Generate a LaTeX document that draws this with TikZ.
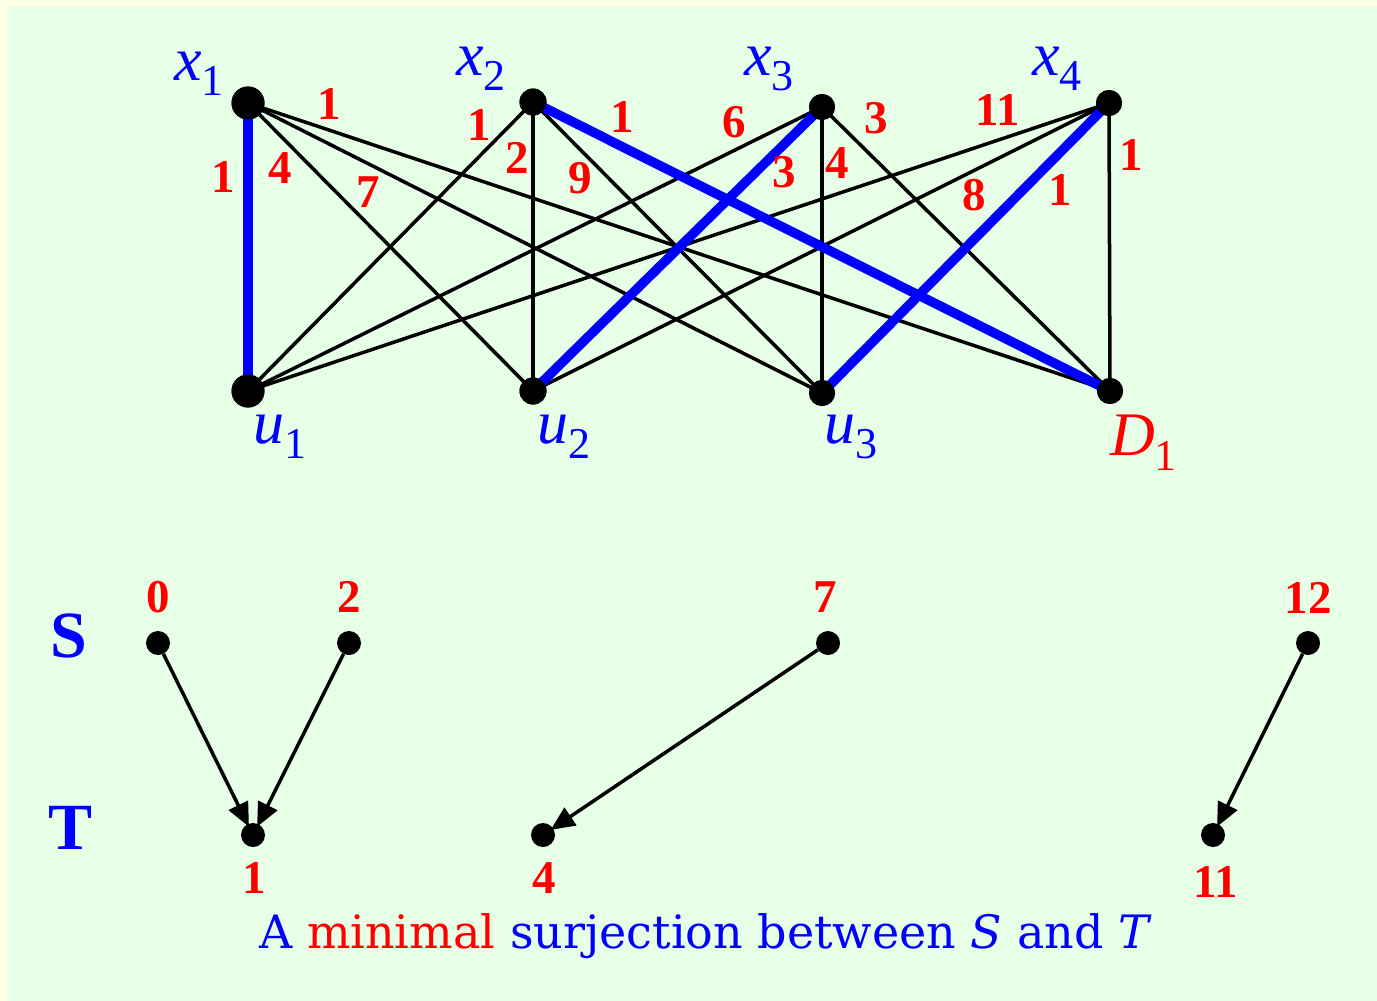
\documentclass[tikz,border=0pt]{standalone}
\usepackage{fontspec}
\setmainfont{Liberation Serif}
\newfontfamily\capfont{DejaVu Serif}
\usetikzlibrary{arrows.meta}
\definecolor{bgyellow}{RGB}{255,255,228}
\definecolor{bggreen}{RGB}{230,255,230}
\newcommand{\sublab}[2]{{\fontsize{62}{62}\selectfont\itshape #1}{\fontsize{44}{44}\selectfont\raisebox{-15pt}{#2}}}
\begin{document}
\begin{tikzpicture}[x=1pt,y=-1pt,
  vdot/.style={circle,fill=black,inner sep=0pt,minimum size=#1},
  vdot/.default=26,
  edge/.style={black,line width=3.5pt},
  bedge/.style={blue,line width=9.5pt},
  wlab/.style={text=red,font=\fontsize{47}{47}\selectfont\bfseries,inner sep=0pt},
  nlab/.style={text=blue,inner sep=0pt,anchor=base west},
  arr/.style={black,line width=3.5pt,-{Triangle[length=24pt,width=21pt]},shorten >=-3pt},
  setlab/.style={text=blue,font=\fontsize{66}{66}\selectfont\bfseries,inner sep=0pt}
]
\useasboundingbox (0,0) rectangle (1377,1001);
\fill[bgyellow] (0,0) rectangle (1377,1001);
\fill[bggreen] (8,7) rectangle (1377,1001);

% top vertices
\node[vdot=33] (x1) at (248,103) {};
\node[vdot=27] (x2) at (533,102) {};
\node[vdot=26] (x3) at (822,107) {};
\node[vdot=26] (x4) at (1109,103) {};
\node[vdot=33] (u1) at (248,391) {};
\node[vdot=27] (u2) at (533,391) {};
\node[vdot=26] (u3) at (822,393) {};
\node[vdot=26] (d1) at (1110,391) {};

% black edges
\foreach \a in {x1,x2,x3,x4}{
  \foreach \b in {u1,u2,u3,d1}{
    \draw[edge] (\a.center) -- (\b.center);
  }
}
% blue edges
\draw[bedge] (x1.center) -- (u1.center);
\draw[bedge] (x2.center) -- (d1.center);
\draw[bedge] (x3.center) -- (u2.center);
\draw[bedge] (x4.center) -- (u3.center);
% redraw dots on top
\foreach \n/\s in {x1/33,x2/27,x3/26,x4/26,u1/33,u2/27,u3/26,d1/26}{
  \fill[black] (\n.center) circle ({\s/2});
}

% vertex labels
\node[nlab] (lx1) at (174,80) {\sublab{x}{1}};
\node[nlab] (lx2) at (456,75) {\sublab{x}{2}};
\node[nlab] (lx3) at (744,75) {\sublab{x}{3}};
\node[nlab] (lx4) at (1032,75) {\sublab{x}{4}};
\node[nlab] (lu1) at (253,443) {\sublab{u}{1}};
\node[nlab] (lu2) at (537,443) {\sublab{u}{2}};
\node[nlab] (lu3) at (824,443) {\sublab{u}{3}};
\node[nlab,text=red] (ld1) at (1110,455) {\sublab{D}{1}};

% weights
\node[wlab] (w11) at (223,177) {1};
\node[wlab] (w12) at (280,168) {4};
\node[wlab] (w13) at (368,192) {7};
\node[wlab] (w14) at (329,104) {1};
\node[wlab] (w21) at (479,125) {1};
\node[wlab] (w22) at (517,158) {2};
\node[wlab] (w23) at (580,178) {9};
\node[wlab] (w24) at (622,117) {1};
\node[wlab] (w31) at (734,122) {6};
\node[wlab] (w32) at (784,172) {3};
\node[wlab] (w33) at (837,163) {4};
\node[wlab] (w34) at (876,118) {3};
\node[wlab] (w41) at (998,110) {11};
\node[wlab] (w42) at (974,195) {8};
\node[wlab] (w43) at (1060,190) {1};
\node[wlab] (w44) at (1131,155) {1};

% bottom part
\node[setlab] (S) at (69,636) {S};
\node[setlab] (T) at (71,828) {T};

\node[vdot=24] (s0) at (158,643) {};
\node[vdot=24] (s2) at (349,643) {};
\node[vdot=24] (s7) at (828,643) {};
\node[vdot=24] (s12) at (1308,643) {};
\node[vdot=24] (t1) at (253,835) {};
\node[vdot=24] (t4) at (543,835) {};
\node[vdot=24] (t11) at (1213,835) {};

\node[wlab] (ls0) at (158,597) {0};
\node[wlab] (ls2) at (349,597) {2};
\node[wlab] (ls7) at (825,597) {7};
\node[wlab] (ls12) at (1308,598) {12};
\node[wlab] (lt1) at (254,878) {1};
\node[wlab] (lt4) at (544,878) {4};
\node[wlab] (lt11) at (1216,882) {11};

\draw[arr] (s0) -- (t1);
\draw[arr] (s2) -- (t1);
\draw[arr] (s7) -- (t4);
\draw[arr] (s12) -- (t11);

\node[text=blue,font=\capfont\fontsize{46}{46}\selectfont,inner sep=0pt,anchor=base] (cap) at (704,948)
  {A {\color{red}minimal} surjection between {\itshape S} and {\itshape T}};
\end{tikzpicture}
\end{document}
